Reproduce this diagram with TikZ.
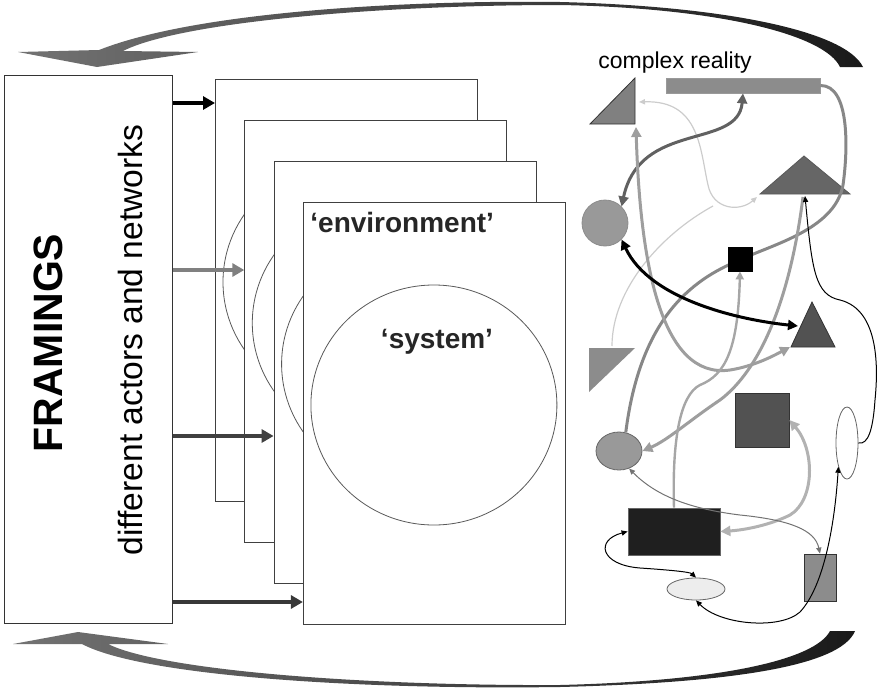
\documentclass[tikz,border=0pt]{standalone}
\usepackage{fontspec}
\setmainfont{Liberation Sans}
\usetikzlibrary{arrows.meta,shapes.geometric}

\begin{document}
\begin{tikzpicture}[x=0.5pt,y=-0.5pt,
  sheet/.style={draw=black!75,fill=white,line width=0.5pt,minimum width=131pt,minimum height=211pt,anchor=north west,inner sep=0pt},
  feed/.style={line width=2pt,arrows={-Triangle[length=6pt,width=6.5pt]}},
  fat/.style={line width=1.5pt,arrows={Triangle[length=5pt,width=5pt]-Triangle[length=5pt,width=5pt]}},
  fine/.style={line width=0.5pt,arrows={Triangle[length=3pt,width=2.6pt]-Triangle[length=3pt,width=2.6pt]}},
  blob/.style={draw=black!60,line width=0.4pt,inner sep=0pt}]
\useasboundingbox (0,0) rectangle (884,691);

% feedback arrows
\shade[left color=black!55,middle color=black!38,right color=black!90]
  (863,67) .. controls (845,30) and (720,6) .. (560,2) .. controls (420,0) and (200,10) .. (99,50)
  -- (18,52) -- (97,67) -- (198,52) -- (123,51)
  .. controls (180,22) and (380,5) .. (560,5) .. controls (720,8) and (825,35) .. (840,67) -- cycle;
\shade[left color=black!55,middle color=black!38,right color=black!90]
  (855,631) .. controls (840,668) and (720,683) .. (560,687) .. controls (350,690) and (140,675) .. (82,644)
  -- (13,644) -- (78,632) -- (168,644) -- (108,644)
  .. controls (160,670) and (360,686) .. (560,685) .. controls (720,681) and (815,660) .. (830,631) -- cycle;

% framings
\node[draw=black!80,line width=0.5pt,minimum width=84pt,minimum height=274pt,anchor=north west,inner sep=0pt] (frame) at (4,75) {};
\node[rotate=90,font=\bfseries\fontsize{20.5}{23}\selectfont] (framings) at (48,343) {FRAMINGS};
\node[rotate=90,font=\fontsize{16.8}{19}\selectfont] (actors) at (130,340) {different actors and networks};

% stacked sheets
\foreach \i [evaluate=\i as \px using 215+29.3*\i, evaluate=\i as \py using 79+41*\i] in {0,...,3}{
  \node[sheet] (p\i) at (\px,\py) {};
  \draw[black!65,line width=0.4pt] (p\i.north west) ++(131,203) circle[x radius=123,y radius=120];
}
\node[anchor=base west,inner sep=0pt,font=\bfseries\fontsize{14}{16}\selectfont,text=black!85] (env) at (310,232) {‘environment’};
\node[anchor=base,inner sep=0pt,font=\bfseries\fontsize{14}{16}\selectfont,text=black!85] (sys) at (437,348) {‘system’};

\draw[feed,black] (frame.east |- 0,103) -- (p0.west |- 0,103);
\draw[feed,black!50] (frame.east |- 0,270) -- (p1.west |- 0,270);
\draw[feed,black!75] (frame.east |- 0,436) -- (p2.west |- 0,436);
\draw[feed,black!78] (frame.east |- 0,602) -- (p3.west |- 0,602);

% complex reality
\node[anchor=base west,inner sep=0pt,font=\fontsize{11.5}{13}\selectfont] (reality) at (598,68) {complex reality};

\draw[fill=black!50,draw=black!80,line width=0.4pt] (590,124) -- (635,78) -- (635,124) -- cycle;
\coordinate (tTL-b) at (636,127);
\coordinate (tTL-r) at (639,102);
\draw[fill=black!60,draw=black!65,line width=0.4pt] (760,194) -- (804,156) -- (850,194) -- cycle;
\coordinate (tBig-l) at (757,197);
\coordinate (tBig-b) at (805,196);
\coordinate (tBig-c) at (803,197);
\draw[fill=black!68,draw=black!80,line width=0.4pt] (791,347) -- (812,302) -- (835,347) -- cycle;
\coordinate (tDk-l) at (798,326);
\coordinate (tDk-b) at (790,347);
\draw[fill=black!45,draw=none] (589,348) -- (635,348) -- (589,392) -- cycle;
\coordinate (tLt-t) at (612,346);
\coordinate (join) at (713,206);

\node[blob,draw=black!40,fill=black!45,minimum width=77pt,minimum height=7.5pt] (bar) at (743,85.5) {};
\node[blob,circle,draw=black!45,fill=black!40,minimum size=23pt] (circ) at (605,223) {};
\node[blob,ellipse,fill=black!40,minimum width=23pt,minimum height=19pt] (ellG) at (619,451) {};
\node[blob,ellipse,fill=white,minimum width=11pt,minimum height=36pt] (ellW) at (847,443) {};
\node[blob,fill=black!88,minimum width=46pt,minimum height=23.5pt] (rectB) at (674,531.5) {};
\node[blob,ellipse,fill=black!7,minimum width=29pt,minimum height=11pt] (ellL) at (696,589) {};
\node[blob,draw=black!80,fill=black!45,minimum width=16pt,minimum height=23.5pt] (rectG) at (820,577.5) {};
\node[blob,draw=black!80,fill=black!68,minimum size=27pt] (sqD) at (762,420) {};

\draw[black!47,line width=1.5pt] (bar.east) .. controls (850,85) and (848,150) .. (843,185)
  .. controls (835,230) and (770,245) .. (740,260) .. controls (690,280) and (640,320) .. (ellG.70);
\node[blob,draw=black,fill=black,minimum size=12pt] (sqB) at (740,259) {};

\draw[fine,black!20,line width=0.6pt] (tTL-r) .. controls (700,100) and (700,150) .. (708,185)
  .. controls (713,210) and (740,212) .. (tBig-l);
\draw[black!20,line width=0.6pt] (tLt-t) .. controls (612,290) and (660,235) .. (join);
\draw[fat,black!62] (bar.south) .. controls (738,150) and (640,120) .. (circ.north east);
\draw[fat,black!38] (tTL-b) .. controls (640,260) and (660,380) .. (730,370)
  .. controls (755,366) and (775,355) .. (tDk-b);
\draw[fat,black!38,arrows={-Triangle[length=5pt,width=5pt]}] (tBig-c) .. controls (790,300) and (760,370) .. (720,400)
  .. controls (690,420) and (668,440) .. (ellG.east);
\draw[black!35,line width=1.2pt,arrows={-Triangle[length=4pt,width=4pt]}] (rectB.north) .. controls (672,440) and (680,395) .. (700,385)
  .. controls (725,375) and (738,350) .. (sqB.south);
\draw[fat,black] (circ.south east) .. controls (650,300) and (740,320) .. (tDk-l);
\draw[fat,black!30] (sqD.east) .. controls (815,450) and (815,500) .. (790,515)
  .. controls (770,525) and (745,530) .. (rectB.east);
\draw[fine,black,arrows={Triangle[length=3pt,width=2.6pt]-}] (tBig-b) .. controls (812,270) and (815,295) .. (840,300)
  .. controls (880,310) and (878,370) .. (875,400) .. controls (873,430) and (868,445) .. (ellW.east);
\draw[fine,black!55] (ellG.-60) .. controls (660,500) and (700,510) .. (740,515)
  .. controls (790,520) and (815,530) .. (rectG.north);
\draw[fine,black] (rectB.west) .. controls (595,540) and (600,565) .. (640,568)
  .. controls (670,570) and (690,572) .. (ellL.north);
\draw[fine,black] (ellL.south) .. controls (720,625) and (780,630) .. (800,612)
  .. controls (825,585) and (835,520) .. (ellW.-110);
\end{tikzpicture}
\end{document}
